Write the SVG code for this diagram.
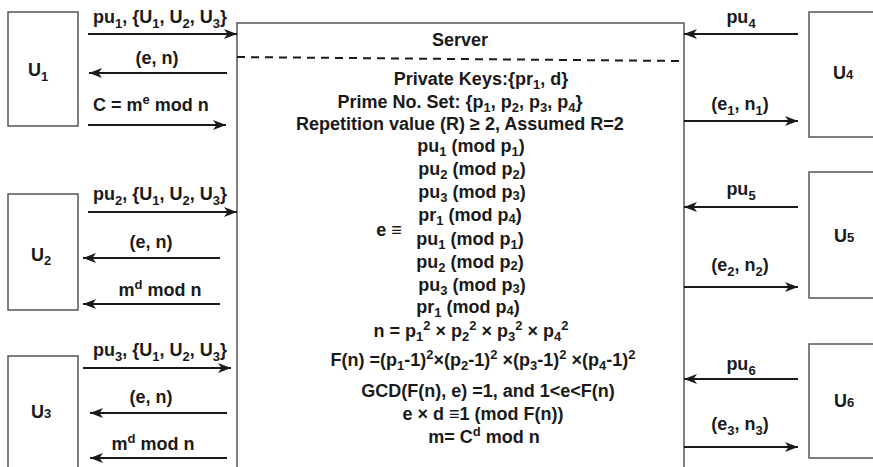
<svg xmlns="http://www.w3.org/2000/svg" width="873" height="467" viewBox="0 0 873 467">
<defs>
<marker id="ah" viewBox="0 0 13 10" refX="13" refY="5" markerWidth="13" markerHeight="10" markerUnits="userSpaceOnUse" orient="auto">
<path d="M0,0 L13,5 L0,10 L3.5,5 z" fill="#1a1a1a"/>
</marker>
<style>
text{font-family:"Liberation Sans",Arial,sans-serif;font-weight:bold;font-size:18px;fill:#1a1a1a}
.s{font-size:13px}
.box{fill:#fff;stroke:#555;stroke-width:1.5}
.c line{stroke:#1a1a1a;stroke-width:2.2;marker-end:url(#ah)}
.m{text-anchor:middle}
</style>
</defs>
<rect width="873" height="467" fill="#fff"/>

<g id="server">
<rect class="box" x="237" y="23" width="447" height="470"/>
<line x1="237" y1="57" x2="684" y2="61" stroke="#1a1a1a" stroke-width="2" stroke-dasharray="8,6"/>
<text class="m" x="460" y="46">Server</text>
<text class="m" x="481" y="85">Private Keys:{pr<tspan class="s" dy="4">1</tspan><tspan dy="-4">, d}</tspan></text>
<text class="m" x="460" y="108">Prime No. Set: {p<tspan class="s" dy="4">1</tspan><tspan dy="-4">, p</tspan><tspan class="s" dy="4">2</tspan><tspan dy="-4">, p</tspan><tspan class="s" dy="4">3</tspan><tspan dy="-4">, p</tspan><tspan class="s" dy="4">4</tspan><tspan dy="-4">}</tspan></text>
<text class="m" x="460" y="130">Repetition value (R) ≥ 2, Assumed R=2</text>
<text class="m" x="471" y="152">pu<tspan class="s" dy="4">1</tspan><tspan dy="-4"> (mod p</tspan><tspan class="s" dy="4">1</tspan><tspan dy="-4">)</tspan></text>
<text class="m" x="472" y="175">pu<tspan class="s" dy="4">2</tspan><tspan dy="-4"> (mod p</tspan><tspan class="s" dy="4">2</tspan><tspan dy="-4">)</tspan></text>
<text class="m" x="472" y="198">pu<tspan class="s" dy="4">3</tspan><tspan dy="-4"> (mod p</tspan><tspan class="s" dy="2">3</tspan><tspan dy="-2">)</tspan></text>
<text class="m" x="470" y="221">pr<tspan class="s" dy="4">1</tspan><tspan dy="-4"> (mod p</tspan><tspan class="s" dy="2">4</tspan><tspan dy="-2">)</tspan></text>
<text class="m" x="389" y="236">e ≡</text>
<text class="m" x="470" y="245">pu<tspan class="s" dy="4">1</tspan><tspan dy="-4"> (mod p</tspan><tspan class="s" dy="4">1</tspan><tspan dy="-4">)</tspan></text>
<text class="m" x="470" y="268">pu<tspan class="s" dy="4">2</tspan><tspan dy="-4"> (mod p</tspan><tspan class="s" dy="2">2</tspan><tspan dy="-2">)</tspan></text>
<text class="m" x="472" y="291">pu<tspan class="s" dy="4">3</tspan><tspan dy="-4"> (mod p</tspan><tspan class="s" dy="2">3</tspan><tspan dy="-2">)</tspan></text>
<text class="m" x="468" y="313">pr<tspan class="s" dy="4">1</tspan><tspan dy="-4"> (mod p</tspan><tspan class="s" dy="2">4</tspan><tspan dy="-2">)</tspan></text>
<text class="m" x="471" y="337">n = p<tspan class="s" dy="4">1</tspan><tspan class="s" dy="-11">2</tspan><tspan dy="7"> × p</tspan><tspan class="s" dy="4">2</tspan><tspan class="s" dy="-11">2</tspan><tspan dy="7"> × p</tspan><tspan class="s" dy="4">3</tspan><tspan class="s" dy="-11">2</tspan><tspan dy="7"> × p</tspan><tspan class="s" dy="4">4</tspan><tspan class="s" dy="-11">2</tspan></text>
<text class="m" x="483" y="366">F(n) =(p<tspan class="s" dy="4">1</tspan><tspan dy="-4">-1)</tspan><tspan class="s" dy="-7">2</tspan><tspan dy="7">×(p</tspan><tspan class="s" dy="4">2</tspan><tspan dy="-4">-1)</tspan><tspan class="s" dy="-7">2</tspan><tspan dy="7"> ×(p</tspan><tspan class="s" dy="4">3</tspan><tspan dy="-4">-1)</tspan><tspan class="s" dy="-7">2</tspan><tspan dy="7"> ×(p</tspan><tspan class="s" dy="4">4</tspan><tspan dy="-4">-1)</tspan><tspan class="s" dy="-7">2</tspan></text>
<text class="m" x="488" y="397">GCD(F(n), e) =1, and 1&lt;e&lt;F(n)</text>
<text class="m" x="483" y="420">e × d ≡1 (mod F(n))</text>
<text class="m" x="484" y="443">m= C<tspan class="s" dy="-7">d</tspan><tspan dy="7"> mod n</tspan></text>
</g>

<g id="U1"><rect class="box" x="8" y="12" width="70" height="114"/><text x="28" y="76">U<tspan class="s" dy="5">1</tspan></text></g>
<g id="U2"><rect class="box" x="8" y="194" width="70" height="116"/><text x="31" y="261">U<tspan class="s" dy="4">2</tspan></text></g>
<g id="U3"><rect class="box" x="8" y="356" width="70" height="130"/><text x="31" y="418">U<tspan class="s">3</tspan></text></g>
<g id="U4"><rect class="box" x="809" y="12" width="80" height="125"/><text x="833" y="79">U<tspan class="s">4</tspan></text></g>
<g id="U5"><rect class="box" x="809" y="172" width="80" height="126"/><text x="834" y="242">U<tspan class="s">5</tspan></text></g>
<g id="U6"><rect class="box" x="809" y="344" width="80" height="114"/><text x="834" y="407">U<tspan class="s">6</tspan></text></g>

<g id="connectors" class="c">
<line x1="88" y1="34" x2="237" y2="34"/>
<line x1="227" y1="73" x2="89" y2="73"/>
<line x1="88" y1="125" x2="226" y2="125"/>
<line x1="88" y1="212" x2="237" y2="212"/>
<line x1="220" y1="258" x2="83" y2="258"/>
<line x1="220" y1="304" x2="83" y2="304"/>
<line x1="83" y1="368" x2="231" y2="368"/>
<line x1="227" y1="413" x2="90" y2="413"/>
<line x1="227" y1="458" x2="90" y2="458"/>
<line x1="798" y1="34" x2="684" y2="34"/>
<line x1="684" y1="121" x2="798" y2="121"/>
<line x1="798" y1="207" x2="684" y2="207"/>
<line x1="684" y1="287" x2="798" y2="287"/>
<line x1="798" y1="379" x2="684" y2="379"/>
<line x1="684" y1="447" x2="798" y2="447"/>
</g>

<g id="labels">
<text x="93" y="23">pu<tspan class="s" dy="5">1</tspan><tspan dy="-5">, {U</tspan><tspan class="s" dy="5">1</tspan><tspan dy="-5">, U</tspan><tspan class="s" dy="5">2</tspan><tspan dy="-5">, U</tspan><tspan class="s" dy="5">3</tspan><tspan dy="-5">}</tspan></text>
<text class="m" x="157" y="64">(e, n)</text>
<text x="93" y="111">C = m<tspan class="s" dy="-7">e</tspan><tspan dy="7"> mod n</tspan></text>
<text x="93" y="200">pu<tspan class="s" dy="5">2</tspan><tspan dy="-5">, {U</tspan><tspan class="s" dy="5">1</tspan><tspan dy="-5">, U</tspan><tspan class="s" dy="5">2</tspan><tspan dy="-5">, U</tspan><tspan class="s" dy="5">3</tspan><tspan dy="-5">}</tspan></text>
<text class="m" x="151" y="248">(e, n)</text>
<text class="m" x="160" y="296">m<tspan class="s" dy="-7">d</tspan><tspan dy="7"> mod n</tspan></text>
<text x="93" y="356">pu<tspan class="s" dy="5">3</tspan><tspan dy="-5">, {U</tspan><tspan class="s" dy="5">1</tspan><tspan dy="-5">, U</tspan><tspan class="s" dy="5">2</tspan><tspan dy="-5">, U</tspan><tspan class="s" dy="5">3</tspan><tspan dy="-5">}</tspan></text>
<text class="m" x="151" y="403">(e, n)</text>
<text class="m" x="153" y="450">m<tspan class="s" dy="-7">d</tspan><tspan dy="7"> mod n</tspan></text>
<text class="m" x="741" y="23">pu<tspan class="s" dy="5">4</tspan></text>
<text class="m" x="740" y="110">(e<tspan class="s" dy="5">1</tspan><tspan dy="-5">, n</tspan><tspan class="s" dy="5">1</tspan><tspan dy="-5">)</tspan></text>
<text class="m" x="741" y="195">pu<tspan class="s" dy="5">5</tspan></text>
<text class="m" x="740" y="271">(e<tspan class="s" dy="5">2</tspan><tspan dy="-5">, n</tspan><tspan class="s" dy="5">2</tspan><tspan dy="-5">)</tspan></text>
<text class="m" x="741" y="370">pu<tspan class="s" dy="5">6</tspan></text>
<text class="m" x="740" y="430">(e<tspan class="s" dy="5">3</tspan><tspan dy="-5">, n</tspan><tspan class="s" dy="5">3</tspan><tspan dy="-5">)</tspan></text>
</g>
</svg>
